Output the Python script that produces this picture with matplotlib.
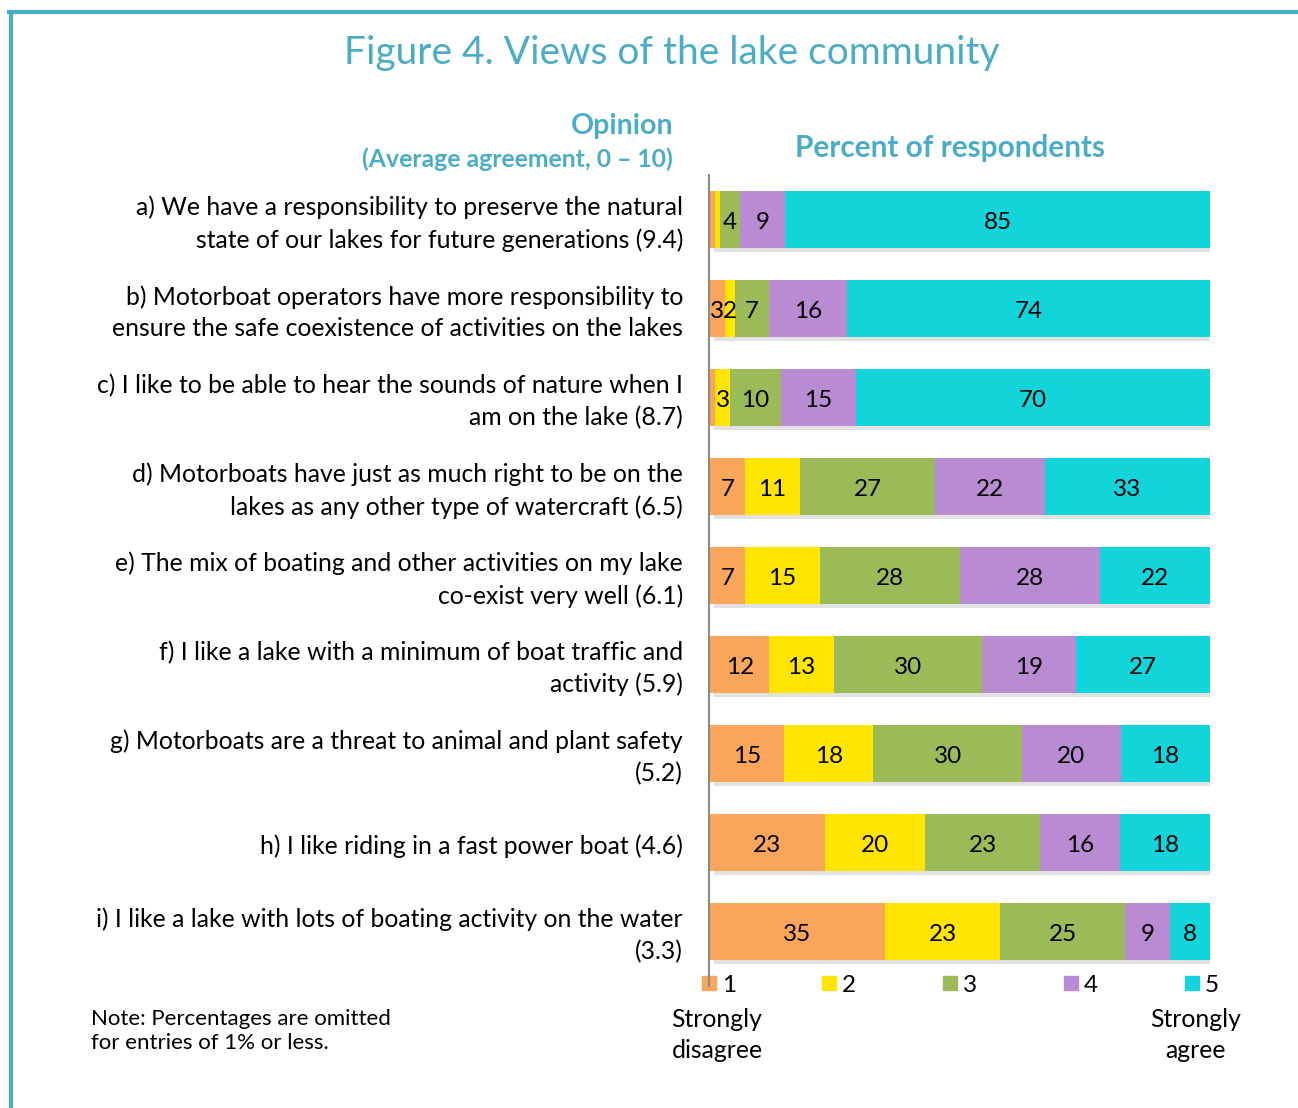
import matplotlib
matplotlib.use("Agg")
import matplotlib.pyplot as plt
import matplotlib.patheffects as pe
from matplotlib.lines import Line2D
from matplotlib.patches import Rectangle
import numpy as np

# ---- data -------------------------------------------------------------
statements = [
    "a) We have a responsibility to preserve the natural\nstate of our lakes for future generations (9.4)",
    "b) Motorboat operators have more responsibility to\nensure the safe coexistence of activities on the lakes",
    "c) I like to be able to hear the sounds of nature when I\nam on the lake (8.7)",
    "d) Motorboats have just as much right to be on the\nlakes as any other type of watercraft (6.5)",
    "e) The mix of boating and other activities on my lake\nco-exist very well (6.1)",
    "f) I like a lake with a minimum of boat traffic and\nactivity (5.9)",
    "g) Motorboats are a threat to animal and plant safety\n(5.2)",
    "h) I like riding in a fast power boat (4.6)",
    "i) I like a lake with lots of boating activity on the water\n(3.3)",
]
scale_labels = ["1", "2", "3", "4", "5"]
pct_1 = [1, 3, 1, 7, 7, 12, 15, 23, 35]
pct_2 = [1, 2, 3, 11, 15, 13, 18, 20, 23]
pct_3 = [4, 7, 10, 27, 28, 30, 30, 23, 25]
pct_4 = [9, 16, 15, 22, 28, 19, 20, 16, 9]
pct_5 = [85, 74, 70, 33, 22, 27, 18, 18, 8]

colors = ["#F9A65A", "#FFE500", "#9BBB59", "#B98BD3", "#12D5DC"]
teal = "#4BACC6"

plt.rcParams["font.family"] = ["Lato", "DejaVu Sans"]

W, H = 1298, 1108
fig = plt.figure(figsize=(W / 100, H / 100), dpi=100)


def fx(x):
    return x / W


def fy(y):
    return 1 - y / H


# ---- stacked bars -----------------------------------------------------
ax = fig.add_axes([fx(710), fy(976), 500 / W, 801 / H])
series = np.array([pct_1, pct_2, pct_3, pct_4, pct_5], dtype=float)
totals = series.sum(axis=0)
shares = series / totals * 100  # each row drawn as a full 100% bar
ypos = np.arange(len(statements))
left = np.zeros(len(statements))
shadow = [pe.SimplePatchShadow(offset=(3, -3), shadow_rgbFace="#a0a0a0", alpha=0.3), pe.Normal()]
for k in range(5):
    bars = ax.barh(ypos, shares[k], left=left, height=0.63, color=colors[k],
                   edgecolor="none", zorder=2)
    for b in bars:
        b.set_path_effects(shadow)
    for i in range(len(statements)):
        v = series[k, i]
        if v > 1:
            ax.text(left[i] + shares[k, i] / 2, ypos[i] + 0.03, f"{int(v)}", ha="center",
                    va="center", fontsize=17.5, color="black", zorder=3)
    left += shares[k]

ax.set_xlim(0, 100)
ax.set_ylim(len(statements) - 0.5, -0.5)
ax.set_xticks([])
ax.set_yticks([])
for s in ["top", "right", "bottom", "left"]:
    ax.spines[s].set_visible(False)
fig.add_artist(Line2D([fx(709), fx(709)], [fy(175), fy(986)], color="#8c8c8c", lw=1.5))

# ---- statement labels --------------------------------------------------
for i, s in enumerate(statements):
    yc = 223.5 + 89 * i
    fig.text(fx(683), fy(yc), s, ha="right", va="center", multialignment="right",
             fontsize=17.8, linespacing=1.45, color="black")

# ---- headings ----------------------------------------------------------
fig.text(fx(672), fy(53), "Figure 4. Views of the lake community", ha="center", va="center",
         fontsize=28, color=teal)
fig.text(fx(673), fy(126), "Opinion", ha="right", va="center", fontsize=20.5,
         fontweight="bold", color=teal)
fig.text(fx(673), fy(159), "(Average agreement, 0 \u2013 10)", ha="right", va="center",
         fontsize=17.8, fontweight="bold", color=teal)
fig.text(fx(950), fy(148), "Percent of respondents", ha="center", va="center", fontsize=21.4,
         fontweight="bold", color=teal)

# ---- legend ------------------------------------------------------------
lx = [702, 822, 943, 1064, 1185]
for x, c, lab in zip(lx, colors, scale_labels):
    fig.add_artist(Rectangle((fx(x), fy(990)), 14 / W, 14 / H, color=c, transform=fig.transFigure))
    fig.text(fx(x + 20), fy(986), lab, ha="left", va="center", fontsize=17.5)
fig.text(fx(717), fy(1035), "Strongly\ndisagree", ha="center", va="center", fontsize=17.8,
         linespacing=1.4)
fig.text(fx(1196), fy(1035), "Strongly\nagree", ha="center", va="center", fontsize=17.8,
         linespacing=1.4)

fig.text(fx(91), fy(1031), "Note: Percentages are omitted\nfor entries of 1% or less.",
         ha="left", va="center", fontsize=16, linespacing=1.25)

# ---- frame -------------------------------------------------------------
fig.add_artist(Line2D([fx(10.5), fx(10.5)], [fy(1108), fy(11.5)], color=teal, lw=3))
fig.add_artist(Line2D([fx(9), fx(1298)], [fy(11.5), fy(11.5)], color=teal, lw=3))

fig.savefig("out.png", dpi=100)
